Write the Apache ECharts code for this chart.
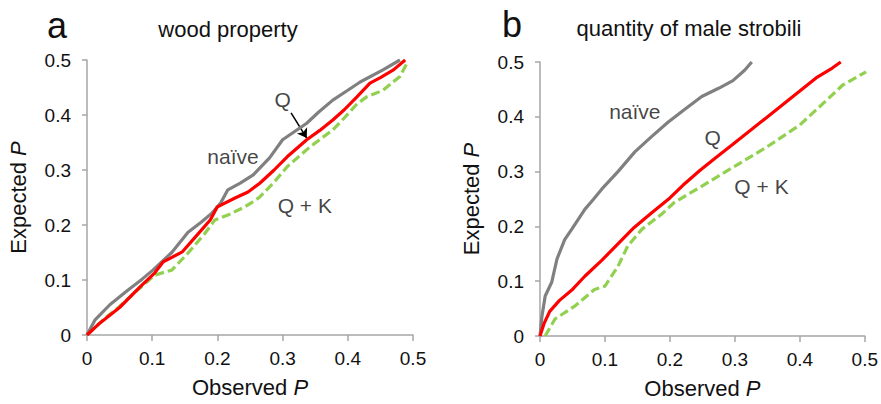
<!DOCTYPE html>
<html>
<head>
<meta charset="utf-8">
<script src="https://cdn.jsdelivr.net/npm/echarts@6/dist/echarts.min.js"></script>
<style>html,body{margin:0;padding:0;background:#fff;}#c{width:881px;height:404px;}</style>
</head>
<body>
<div id="c"></div>
<script>
// Panel a: wood property
const aNaive = [[0,0],[0.012,0.027],[0.035,0.055],[0.063,0.082],[0.085,0.102],[0.101,0.118],[0.13,0.15],[0.155,0.187],[0.175,0.205],[0.192,0.222],[0.205,0.24],[0.216,0.264],[0.235,0.276],[0.255,0.291],[0.28,0.322],[0.30,0.355],[0.337,0.385],[0.355,0.405],[0.377,0.427],[0.40,0.445],[0.419,0.46],[0.454,0.482],[0.48,0.5]];
const aQ = [[0,0],[0.02,0.022],[0.05,0.05],[0.081,0.087],[0.104,0.113],[0.117,0.133],[0.146,0.151],[0.166,0.178],[0.189,0.209],[0.2,0.233],[0.227,0.249],[0.247,0.26],[0.265,0.276],[0.287,0.3],[0.307,0.324],[0.337,0.355],[0.357,0.372],[0.377,0.391],[0.395,0.41],[0.414,0.433],[0.434,0.458],[0.45,0.468],[0.47,0.482],[0.488,0.5]];
const aQK = [[0,0],[0.028,0.031],[0.05,0.052],[0.074,0.078],[0.104,0.109],[0.13,0.118],[0.155,0.149],[0.181,0.185],[0.196,0.209],[0.216,0.218],[0.242,0.233],[0.258,0.245],[0.265,0.251],[0.287,0.278],[0.307,0.306],[0.342,0.342],[0.377,0.373],[0.395,0.395],[0.414,0.42],[0.429,0.433],[0.454,0.445],[0.48,0.47],[0.492,0.497]];
// Panel b: quantity of male strobili
const bNaive = [[0,0],[0.003,0.036],[0.008,0.073],[0.018,0.098],[0.026,0.14],[0.038,0.176],[0.049,0.195],[0.069,0.231],[0.082,0.249],[0.095,0.268],[0.12,0.3],[0.146,0.336],[0.17,0.362],[0.197,0.39],[0.222,0.413],[0.249,0.437],[0.275,0.452],[0.297,0.466],[0.315,0.485],[0.326,0.5]];
const bQ = [[0,0],[0.006,0.022],[0.015,0.045],[0.03,0.065],[0.05,0.085],[0.069,0.109],[0.095,0.138],[0.12,0.168],[0.145,0.198],[0.172,0.225],[0.2,0.252],[0.22,0.275],[0.246,0.302],[0.27,0.325],[0.296,0.349],[0.348,0.398],[0.399,0.446],[0.425,0.471],[0.45,0.489],[0.463,0.5]];
const bQK = [[0.008,0],[0.023,0.031],[0.054,0.055],[0.084,0.085],[0.1,0.091],[0.12,0.127],[0.135,0.164],[0.157,0.195],[0.187,0.222],[0.207,0.244],[0.246,0.271],[0.296,0.307],[0.348,0.344],[0.4,0.385],[0.45,0.44],[0.466,0.458],[0.502,0.482]];
// Text labels (x, y, text) in data coordinates
const aLabels = [[0.224,0.324,'naïve'],[0.30,0.429,'Q'],[0.334,0.236,'Q + K']];
const bLabels = [[0.146,0.409,'naïve'],[0.266,0.362,'Q'],[0.341,0.273,'Q + K']];
const aArrow = [[0.313,0.404],[0.337,0.358]];
const ticks = ['0','0.1','0.2','0.3','0.4','0.5'];

const chart = echarts.init(document.getElementById('c'), null, {renderer:'svg'});
const font = 'Arial, "Liberation Sans", sans-serif';
const axisCol = '#a6a6a6';
const txtCol = '#111111';
function xAx(i){return {gridIndex:i,type:'value',min:0,max:0.5,interval:0.1,
  axisLine:{show:true,lineStyle:{color:axisCol,width:1.5}},
  axisTick:{show:true,length:6,lineStyle:{color:axisCol,width:1.5}},
  splitLine:{show:false},
  axisLabel:{fontSize:19,fontFamily:font,color:txtCol,margin:14,formatter:(v)=>ticks[Math.round(v*10)]},
  name:'Observed {i|P}',nameLocation:'middle',nameGap:41,
  nameTextStyle:{fontSize:22,fontFamily:font,color:txtCol,rich:{i:{fontSize:22,fontFamily:font,fontStyle:'italic',color:txtCol}}}};}
function yAx(i){return {gridIndex:i,type:'value',min:0,max:0.5,interval:0.1,
  axisLine:{show:true,lineStyle:{color:axisCol,width:1.5}},
  axisTick:{show:true,length:5,lineStyle:{color:axisCol,width:1.5}},
  splitLine:{show:false},
  axisLabel:{fontSize:19,fontFamily:font,color:txtCol,margin:16,formatter:(v)=>ticks[Math.round(v*10)]},
  name:'Expected {i|P}',nameLocation:'middle',nameGap:58,nameRotate:90,
  nameTextStyle:{fontSize:22,fontFamily:font,color:txtCol,rich:{i:{fontSize:22,fontFamily:font,fontStyle:'italic',color:txtCol}}}};}
function ln(i,data,color,dash){return {type:'line',xAxisIndex:i,yAxisIndex:i,data:data,showSymbol:false,symbol:'none',
  lineStyle:{color:color,width:3.2,type:dash||'solid'},silent:true,animation:false};}
function lbl(i,data){return {type:'scatter',xAxisIndex:i,yAxisIndex:i,data:data,symbolSize:0,silent:true,animation:false,
  label:{show:true,position:'inside',formatter:(p)=>p.value[2],fontSize:21,fontFamily:font,color:txtCol}};}

chart.setOption({
  animation:false,
  grid:[{left:87,top:60,width:326,height:275},{left:540,top:62,width:326,height:275}],
  xAxis:[xAx(0),xAx(1)],
  yAxis:[yAx(0),yAx(1)],
  graphic:[
    {type:'text',x:57,y:25,style:{text:'a',fontSize:36,fontFamily:font,fill:txtCol,textAlign:'center',textVerticalAlign:'middle'}},
    {type:'text',x:228,y:29,style:{text:'wood property',fontSize:22,fontFamily:font,fill:txtCol,textAlign:'center',textVerticalAlign:'middle'}},
    {type:'text',x:512,y:24,style:{text:'b',fontSize:36,fontFamily:font,fill:txtCol,textAlign:'center',textVerticalAlign:'middle'}},
    {type:'text',x:689,y:28,style:{text:'quantity of male strobili',fontSize:22,fontFamily:font,fill:txtCol,textAlign:'center',textVerticalAlign:'middle'}}
  ],
  series:[
    ln(0,aQK,'#92d050',[9,4]), ln(0,aNaive,'#808080'), ln(0,aQ,'#ff0000'),
    ln(1,bQK,'#92d050',[9,4]), ln(1,bNaive,'#808080'), ln(1,bQ,'#ff0000'),
    lbl(0,aLabels), lbl(1,bLabels),
    {type:'lines',coordinateSystem:'cartesian2d',xAxisIndex:0,yAxisIndex:0,silent:true,animation:false,
     symbol:['none','arrow'],symbolSize:9,
     lineStyle:{color:'#000',width:1.5,opacity:1},
     data:[{coords:aArrow}]}
  ]
});
</script>
</body>
</html>
